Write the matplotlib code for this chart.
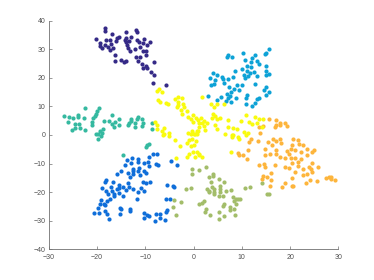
import matplotlib
matplotlib.use('Agg')
import matplotlib.pyplot as plt

purple_x = [-18.3,-18.25,-20.3,-19.35,-16.85,-18.05,-17.3,-19.4,-19.0,-18.25,-17.2,-17.75,-17.4,-16.65,-16.05,-15.8,-15.55,-14.1,-12.0,-11.8,-12.9,-14.0,-14.3,-13.35,-14.0,-13.8,-11.75,-11.3,-10.45,-9.75,-9.0,-10.3,-11.05,-12.15,-13.5,-13.25,-16.25,-16.25,-15.05,-14.5,-13.9,-11.9,-11.0,-9.9,-10.4,-9.9,-11.45,-10.65,-9.9,-10.5,-9.6,-8.9,-8.2,-8.3,-8.5,-5.8]
purple_y = [37.3,36.4,33.6,32.3,35.4,33.3,33.1,31.1,30.3,31.35,31.8,30.65,29.85,30.3,33.0,33.9,34.4,36.1,36.7,35.9,34.4,34.0,33.3,33.0,32.4,31.5,33.2,32.4,32.05,31.5,32.5,33.7,30.9,30.2,30.3,29.25,27.85,25.75,26.3,25.4,25.75,27.4,27.15,27.85,29.35,29.5,25.85,24.95,24.25,23.55,23.3,22.15,25.65,21.0,18.05,17.5]

teal_x = [-26.75,-25.8,-26.0,-25.0,-24.0,-23.9,-22.75,-22.4,-19.55,-20.1,-20.25,-20.4,-20.8,-21.15,-21.15,-24.55,-23.7,-24.55,-23.6,-25.2,-22.55,-18.5,-17.6,-16.8,-15.5,-16.25,-16.95,-15.55,-16.4,-12.9,-13.05,-13.35,-13.6,-12.15,-12.2,-11.6,-11.7,-10.65,-10.5,-10.7,-8.7,-8.65,-18.75,-19.35,-18.9,-19.8,-20.25,-19.2,-19.8,-9.95,-9.6,-9.2,-14.6]
teal_y = [6.6,6.15,4.5,5.8,7.1,6.4,5.95,9.45,9.55,8.5,7.45,6.6,5.8,4.5,3.4,3.95,3.95,2.55,2.55,1.75,1.75,4.9,5.0,6.85,5.7,4.65,3.85,3.5,2.9,5.7,4.9,4.05,3.5,4.05,2.7,6.4,5.45,5.6,4.05,3.0,4.3,2.1,2.0,1.5,0.8,0.35,0.35,-0.35,-1.3,-4.1,-3.5,-3.0,-7.0]

blue_x = [-7.5,-8.35,-9.2,-12.85,-13.8,-11.45,-11.55,-9.4,-10.35,-14.15,-13.05,-7.75,-7.3,-9.2,-11.4,-12.5,-12.5,-11.6,-15.05,-15.85,-13.55,-12.65,-13.15,-10.35,-9.8,-11.2,-4.7,-3.45,-18.1,-18.3,-16.65,-15.4,-13.6,-10.5,-9.95,-9.05,-17.2,-15.55,-14.65,-13.4,-15.85,-13.95,-12.55,-19.05,-18.05,-17.75,-16.85,-16.5,-16.4,-15.55,-14.6,-10.8,-10.3,-11.55,-5.4,-4.35,-4.05,-17.3,-17.85,-19.2,-19.4,-18.6,-18.25,-19.8,-20.55,-19.55,-18.25,-17.95,-17.55,-15.15,-14.95,-15.25,-13.15,-13.2,-11.8,-5.65,-10.35,-9.75,-9.25,-10.35,-7.8,-6.85,-7.05,-8.0,-5.95,-5.7,-5.4,-4.9]
blue_y = [-6.65,-6.75,-7.8,-8.05,-8.75,-8.5,-9.45,-9.3,-9.8,-10.4,-9.9,-10.0,-10.4,-10.95,-11.45,-11.9,-12.6,-12.6,-12.5,-13.65,-13.4,-13.75,-14.55,-12.5,-13.2,-14.0,-9.0,-10.4,-15.85,-16.3,-16.45,-17.5,-16.65,-16.45,-16.9,-16.55,-18.05,-18.4,-18.3,-18.05,-18.75,-19.2,-18.75,-18.65,-19.7,-20.65,-19.6,-20.5,-21.2,-20.15,-21.3,-18.65,-19.6,-19.95,-17.5,-17.85,-18.2,-22.25,-23.2,-22.75,-24.35,-24.1,-24.7,-25.65,-27.4,-27.3,-26.6,-27.6,-29.4,-25.5,-25.9,-27.6,-25.9,-26.8,-22.4,-22.4,-27.3,-28.1,-28.3,-29.25,-27.75,-27.75,-29.15,-30.1,-29.85,-27.15,-26.35,-22.5]

olive_x = [-0.35,-0.35,1.2,2.5,-0.45,-1.6,-3.95,-2.6,-4.2,-3.65,3.15,4.1,3.95,3.65,5.2,6.3,5.4,2.85,3.15,3.8,4.2,3.25,4.15,4.2,5.45,5.45,6.65,7.75,6.1,5.35,8.1,8.75,9.55,8.4,8.8,6.35,6.1,2.1,1.8,1.05,2.5,2.3,3.35,5.35,6.25,5.35,7.55,7.55,8.45,8.6,10.6,11.7,14.2,15.25,15.65,9.15]
olive_y = [-11.9,-13.65,-12.1,-11.05,-18.65,-18.9,-22.75,-23.4,-25.3,-28.0,-14.8,-13.75,-14.35,-16.3,-15.35,-16.3,-17.95,-19.0,-19.45,-18.05,-18.9,-20.05,-19.8,-20.75,-19.0,-20.05,-19.7,-19.2,-21.35,-21.35,-21.55,-22.4,-22.5,-23.2,-24.1,-24.35,-24.8,-23.2,-23.9,-24.35,-26.1,-27.05,-27.95,-27.15,-28.3,-29.5,-25.4,-26.35,-26.1,-28.0,-18.65,-18.05,-16.9,-20.5,-20.5,-22.4]

cyan_x = [15.65,15.1,14.9,10.3,7.15,7.0,8.05,12.75,12.1,10.75,13.2,11.95,13.55,11.05,11.85,14.95,10.1,8.5,11.0,11.75,12.5,15.1,15.1,15.65,10.45,11.35,10.65,13.15,3.95,4.85,5.9,6.05,3.4,4.5,7.2,8.1,6.25,4.25,3.55,12.65,9.0,10.1,7.35,8.35,9.4,7.85,15.0,14.55,15.65,6.95,11.05,7.6,10.8,8.85,5.6,3.05,15.1,13.65,13.2,7.05,6.65,4.85,7.85,12.65,10.95,12.05]
cyan_y = [29.95,28.8,28.3,28.8,28.1,27.25,27.25,27.85,26.9,26.2,26.0,25.4,24.7,24.25,23.65,24.1,23.2,22.35,22.25,21.65,22.0,22.35,21.0,21.2,21.1,20.75,19.9,20.75,21.8,21.1,20.4,19.55,19.8,19.35,19.45,20.25,18.2,17.95,17.35,17.95,17.6,17.5,16.65,16.2,15.6,15.15,16.8,15.85,15.15,14.35,14.1,13.5,13.05,12.95,13.4,13.5,13.85,13.05,12.6,12.8,12.0,12.1,11.65,11.3,10.95,10.15]

yellow_x = [-7.55,-7.1,-6.6,-7.3,-7.0,-5.65,-5.3,-3.85,-3.2,-2.4,-3.2,-2.15,-3.25,-3.4,-2.05,-2.5,-1.35,-2.35,-1.15,-0.2,0.5,0.85,-0.6,-0.2,1.05,1.1,-0.4,0.65,-1.15,0.3,-7.9,-7.55,-7.55,-6.15,-6.5,-5.1,-6.15,1.85,3.6,4.95,4.3,6.4,1.55,2.15,2.85,1.85,2.25,2.35,0.8,3.95,4.45,3.75,5.55,4.8,4.5,4.8,7.2,7.2,8.15,9.0,6.6,8.1,9.9,10.85,11.45,12.1,12.8,13.5,14.45,13.2,14.1,10.4,11.35,10.85,-6.3,-5.05,-3.85,-2.75,-1.45,-0.9,-0.6,0.15,0.5,-1.3,-1.0,-0.2,0.65,1.2,-3.6,-0.6,0.1,1.0,-0.35,1.1,1.75,0.3,7.75,8.05,9.15,9.5,8.05]
yellow_y = [15.5,16.1,15.05,12.1,11.4,11.2,10.7,12.7,13.4,12.8,11.65,10.7,10.5,9.65,9.9,8.75,8.4,7.2,6.4,7.1,6.05,5.25,5.5,4.4,4.05,2.9,1.5,1.5,0.6,0.35,4.65,3.4,2.0,2.55,1.5,0.8,0.35,13.15,10.95,10.95,9.65,10.7,6.05,5.0,4.05,4.3,3.15,1.6,0.45,7.45,6.5,5.95,5.8,5.6,3.4,2.2,5.1,2.7,2.45,2.1,0.35,0.1,4.75,7.1,4.65,3.7,6.4,5.7,5.6,4.2,2.9,1.15,0.6,0.0,0.0,-0.25,-1.75,-3.7,-2.65,-1.75,-3.7,-3.5,-2.1,-7.8,-6.65,-6.05,-5.8,-7.0,-8.05,0.35,0.35,1.4,-1.5,-6.65,-7.6,-7.6,-5.85,0.0,-0.6,-1.5,-0.8]

orange_x = [15.65,17.0,17.85,18.95,19.45,18.0,17.15,16.8,13.65,14.45,13.75,11.9,11.45,13.3,15.5,16.45,17.15,17.95,18.2,16.25,20.7,21.55,20.35,21.95,22.75,20.2,21.1,23.6,17.05,14.8,19.3,19.85,22.2,25.0,24.65,23.6,15.9,17.05,14.8,17.95,18.95,20.2,21.1,22.35,21.75,11.3,9.2,9.4,10.3,11.15,13.65,14.6,14.75,16.9,18.9,19.8,20.5,21.75,24.5,23.85,25.75,22.75,24.3,24.65,20.95,23.6,22.6,16.05,14.45,15.15,14.2,16.05,20.5,24.15,23.25,25.65,18.9,18.25,15.85,20.35,28.15,28.55,27.4,28.5,29.25,20.55]
orange_y = [5.45,5.35,4.2,4.05,3.0,3.5,3.5,2.8,2.9,3.25,0.6,-1.4,-2.3,-2.1,-2.55,-1.5,-2.1,-1.4,-2.9,-3.35,-1.3,-1.75,-3.6,-3.15,-3.35,-4.9,-5.25,-4.75,-5.15,-4.9,-5.6,-6.75,-5.8,-5.25,-6.05,-7.1,-6.75,-6.65,-6.9,-7.6,-7.95,-8.15,-8.15,-8.5,-9.55,-5.25,-6.2,-7.1,-6.9,-8.5,-10.6,-10.25,-11.05,-10.5,-11.05,-11.65,-9.9,-10.85,-9.9,-11.05,-11.2,-12.0,-12.0,-13.05,-13.05,-13.75,-14.1,-13.4,-14.35,-14.55,-15.4,-15.75,-15.15,-15.75,-16.65,-16.2,-16.9,-18.2,-17.7,-17.7,-14.55,-14.55,-15.15,-15.5,-15.85,-18.0]

x_ticks = [-30, -20, -10, 0, 10, 20, 30]
y_ticks = [-40, -30, -20, -10, 0, 10, 20, 30, 40]

W, H = 374, 280
fig = plt.figure(figsize=(W / 100, H / 100), dpi=100)
ax = fig.add_axes([48.8 / W, (H - 249.2) / H, 289.5 / W, 228.5 / H])

series = [
    (purple_x, purple_y, '#352a87'),
    (blue_x, blue_y, '#0f6ed9'),
    (cyan_x, cyan_y, '#0da2d6'),
    (teal_x, teal_y, '#35b9a0'),
    (olive_x, olive_y, '#a3bd6a'),
    (orange_x, orange_y, '#fdb53c'),
    (yellow_x, yellow_y, '#f9fb0e'),
]
for xs, ys, c in series:
    ax.scatter(xs, ys, s=9, color=c, linewidths=0, zorder=3)

ax.set_xlim(-30, 30)
ax.set_ylim(-40, 40)
ax.set_xticks(x_ticks)
ax.set_yticks(y_ticks)
ax.spines['top'].set_visible(False)
ax.spines['right'].set_visible(False)
gray = '#707070'
for s in ('left', 'bottom'):
    ax.spines[s].set_color(gray)
    ax.spines[s].set_linewidth(0.6)
ax.tick_params(direction='in', length=2.2, width=0.5, color=gray,
               labelcolor='#505050', labelsize=5)
ax.tick_params(axis='x', pad=3.5)
ax.tick_params(axis='y', pad=2.5)
for t in ax.get_xticklabels() + ax.get_yticklabels():
    t.set_fontfamily('Liberation Sans')

fig.savefig('out.png', dpi=100, facecolor='white')
